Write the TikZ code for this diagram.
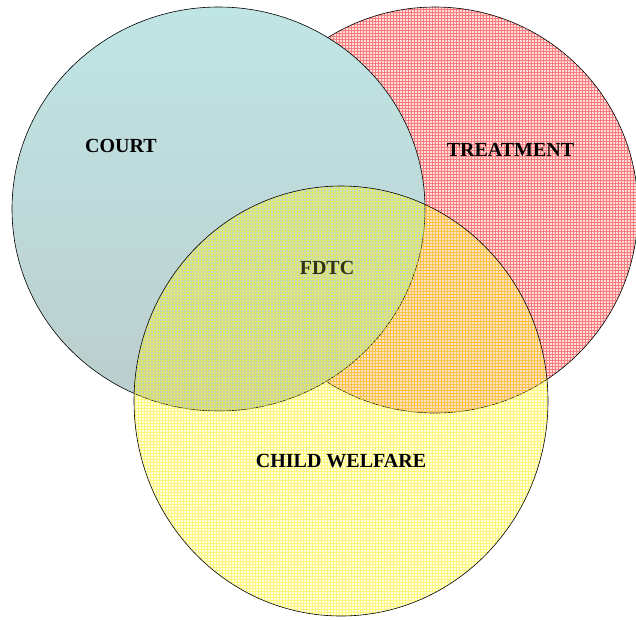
\documentclass[tikz,border=0pt]{standalone}
\usepackage{fontspec}
\setmainfont{Liberation Serif}
\begin{document}
\begin{tikzpicture}[x=1pt,y=-1pt,
  outline/.style={draw=black,line width=0.6pt},
  lbl/.style={font=\fontsize{20}{24}\selectfont\bfseries,text=black,inner sep=0pt}]
\definecolor{teallt}{RGB}{192,229,229}
\definecolor{tealdk}{RGB}{188,205,205}
\definecolor{pinkbg}{RGB}{253,222,222}
\definecolor{gridred}{RGB}{245,60,60}
\definecolor{gridyel}{RGB}{252,245,30}
\definecolor{fdtccol}{RGB}{50,50,15}
\useasboundingbox (0,0) rectangle (636,619);
% TREATMENT
\fill[pinkbg] (435,210) ellipse [x radius=203pt, y radius=203pt];
\begin{scope}
  \clip (435,210) ellipse [x radius=203pt, y radius=203pt];
  \draw[gridred,opacity=0.6,line width=0.7pt,step=3pt] (0,0) grid (639,619);
\end{scope}
\draw[outline] (435,210) ellipse [x radius=203pt, y radius=203pt];
% COURT
\shade[top color=teallt,bottom color=tealdk] (218.5,209) ellipse [x radius=206.5pt, y radius=202pt];
\draw[outline] (218.5,209) ellipse [x radius=206.5pt, y radius=202pt];
% CHILD WELFARE
\fill[yellow,opacity=0.10] (341,401) ellipse [x radius=207pt, y radius=215pt];
\begin{scope}
  \clip (341,401) ellipse [x radius=207pt, y radius=215pt];
  \draw[gridyel,opacity=0.55,line width=0.6pt,step=3pt] (0,0) grid (639,619);
\end{scope}
\draw[outline] (341,401) ellipse [x radius=207pt, y radius=215pt];
% labels
\node[lbl,text=fdtccol] (fdtc) at (327,268) {FDTC};
\node[lbl] (court) at (121,146) {COURT};
\node[lbl] (treat) at (510.5,150) {TREATMENT};
\node[lbl] (child) at (341,461) {CHILD WELFARE};
\end{tikzpicture}
\end{document}
